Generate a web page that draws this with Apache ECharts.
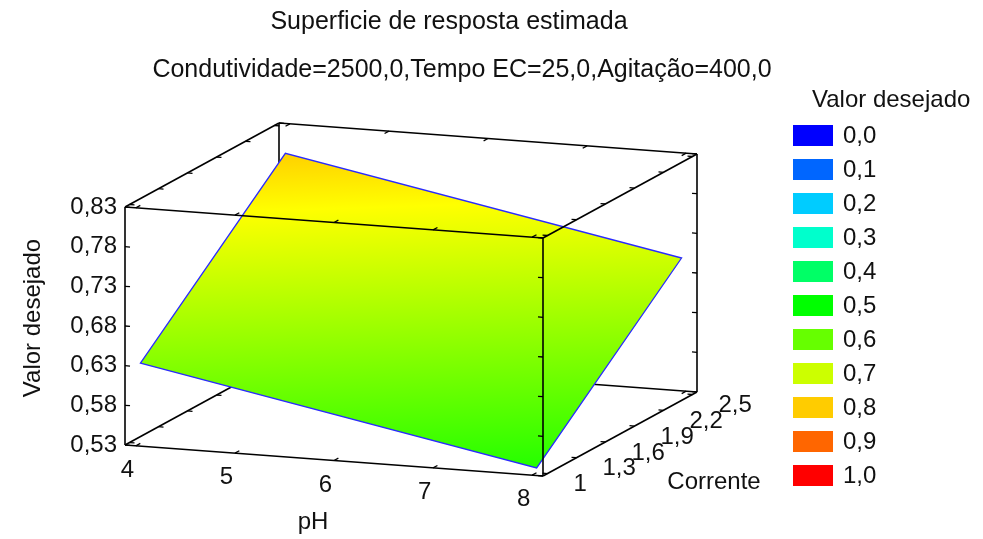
<!DOCTYPE html>
<html>
<head>
<meta charset="utf-8">
<script src="https://cdn.jsdelivr.net/npm/echarts@6/dist/echarts.min.js"></script>
<style>
html, body { margin: 0; padding: 0; background: #fff; }
#main { width: 983px; height: 539px; }
</style>
</head>
<body>
<div id="main"></div>
<script>
// tick labels of the three axes
var phTicks = [4, 5, 6, 7, 8];
var correnteTicks = [1, 1.3, 1.6, 1.9, 2.2, 2.5];
var zTicks = [0.53, 0.58, 0.63, 0.68, 0.73, 0.78, 0.83];

// estimated response surface, read at the corners of the factor region
var surfPH = [4, 8];
var surfCorrente = [1, 2.5];
var surfZ = [            // surfZ[pH index][Corrente index]
    [0.631, 0.796],
    [0.536, 0.701]
];

// colour legend
var legendValues = [0, 0.1, 0.2, 0.3, 0.4, 0.5, 0.6, 0.7, 0.8, 0.9, 1.0];
var legendColors = ['#0000ff', '#0066ff', '#00ccff', '#00ffcc', '#00ff66', '#00ff00',
    '#66ff00', '#ccff00', '#ffcc00', '#ff6600', '#ff0000'];

// axis ranges of the box (pH and Corrente are padded a little)
var phR = [3.89, 8.11];
var cR = [0.953, 2.547];
var zR = [0.53, 0.83];

// screen frame of the box
var O = [125, 445];     // corner pH min, Corrente min, z min
var PX = [418, 31];     // full pH run
var CX = [154, -84];    // full Corrente run
var ZH = 238;           // full height

var FONT = '24px "Liberation Sans", Arial, sans-serif';
var TFONT = '25px "Liberation Sans", Arial, sans-serif';
var INK = '#111';

function lin(v, d, r) {
    return echarts.number && echarts.number.linearMap
        ? echarts.number.linearMap(v, d, r)
        : r[0] + (v - d[0]) / (d[1] - d[0]) * (r[1] - r[0]);
}

function proj(ph, c, z) {
    var u = lin(ph, phR, [0, 1]);
    var v = lin(c, cR, [0, 1]);
    var w = lin(z, zR, [0, ZH]);
    return [O[0] + u * PX[0] + v * CX[0], O[1] + u * PX[1] + v * CX[1] - w];
}

function unit(a) {
    var l = Math.sqrt(a[0] * a[0] + a[1] * a[1]);
    return [a[0] / l, a[1] / l];
}

function fmt(v, d) {
    return v.toFixed(d).replace('.', ',');
}

function corner(k) {
    return [phR[k[0]], cR[k[1]], zR[k[2]]];
}

// edges: start corner, end corner, tick direction axis, sign
var backEdges = [
    [[0, 1, 0], [0, 1, 1], 'ph', 1],
    [[0, 0, 0], [0, 1, 0], 'ph', 1],
    [[0, 1, 0], [1, 1, 0], 'c', -1]
];
var frontEdges = [
    [[0, 0, 1], [1, 0, 1], 'c', 1],
    [[1, 0, 1], [1, 1, 1], 'ph', -1],
    [[0, 1, 1], [1, 1, 1], 'c', -1],
    [[0, 0, 1], [0, 1, 1], 'ph', 1],
    [[0, 0, 0], [0, 0, 1], 'ph', 1],
    [[1, 0, 0], [1, 0, 1], 'ph', -1],
    [[1, 1, 0], [1, 1, 1], 'ph', -1],
    [[0, 0, 0], [1, 0, 0], 'c', 1],
    [[1, 0, 0], [1, 1, 0], 'ph', -1]
];

function edgeRenderer(list) {
    return function (params) {
        var e = list[params.dataIndex];
        var a = corner(e[0]), b = corner(e[1]);
        var axis = e[0][0] !== e[1][0] ? 0 : (e[0][1] !== e[1][1] ? 1 : 2);
        var pa = proj(a[0], a[1], a[2]), pb = proj(b[0], b[1], b[2]);
        var children = [{
            type: 'line',
            shape: { x1: pa[0], y1: pa[1], x2: pb[0], y2: pb[1] },
            style: { stroke: '#000', lineWidth: 1.6 }
        }];
        var ticks = [phTicks, correnteTicks, zTicks][axis];
        var dir = unit(e[2] === 'ph' ? PX : CX);
        ticks.forEach(function (t) {
            var q = a.slice();
            q[axis] = t;
            var p = proj(q[0], q[1], q[2]);
            children.push({
                type: 'line',
                shape: { x1: p[0], y1: p[1], x2: p[0] + dir[0] * 5 * e[3], y2: p[1] + dir[1] * 5 * e[3] },
                style: { stroke: '#000', lineWidth: 1.3 }
            });
        });
        return { type: 'group', children: children };
    };
}

// surface cells
var cells = [];
for (var i = 0; i < surfPH.length - 1; i++) {
    for (var j = 0; j < surfCorrente.length - 1; j++) cells.push([i, j]);
}

function surfaceRenderer(params) {
    var i = cells[params.dataIndex][0], j = cells[params.dataIndex][1];
    var p00 = proj(surfPH[i], surfCorrente[j], surfZ[i][j]);
    var p10 = proj(surfPH[i + 1], surfCorrente[j], surfZ[i + 1][j]);
    var p11 = proj(surfPH[i + 1], surfCorrente[j + 1], surfZ[i + 1][j + 1]);
    var p01 = proj(surfPH[i], surfCorrente[j + 1], surfZ[i][j + 1]);
    // value gradient in screen space, for the colour ramp
    var d1 = [p10[0] - p00[0], p10[1] - p00[1]], d2 = [p01[0] - p00[0], p01[1] - p00[1]];
    var dz1 = surfZ[i + 1][j] - surfZ[i][j], dz2 = surfZ[i][j + 1] - surfZ[i][j];
    var det = d1[0] * d2[1] - d1[1] * d2[0];
    var gb = (dz1 * d2[1] - dz2 * d1[1]) / det;
    var gc = (d1[0] * dz2 - d2[0] * dz1) / det;
    var g2 = gb * gb + gc * gc;
    var t0 = (0 - surfZ[i][j]) / g2, t1 = (1 - surfZ[i][j]) / g2;
    var fill = {
        type: 'linear', global: true,
        x: p00[0] + gb * t0, y: p00[1] + gc * t0,
        x2: p00[0] + gb * t1, y2: p00[1] + gc * t1,
        colorStops: [
            { offset: 0, color: '#0000ff' },
            { offset: 0.25, color: '#00ffff' },
            { offset: 0.5, color: '#00ff00' },
            { offset: 0.75, color: '#ffff00' },
            { offset: 1, color: '#ff0000' }
        ]
    };
    return {
        type: 'polygon',
        shape: { points: [p00, p10, p11, p01] },
        style: { fill: fill, stroke: '#2a2aff', lineWidth: 1.3 }
    };
}

function labelRenderer(kind) {
    return function (params) {
        var p, x, y, align, text;
        if (kind === 'z') {
            var z = zTicks[params.dataIndex];
            p = proj(phR[0], cR[0], z);
            x = p[0] - 8; y = p[1]; align = 'right'; text = fmt(z, 2);
        } else if (kind === 'ph') {
            var ph = phTicks[params.dataIndex];
            p = proj(ph, cR[0], zR[0]);
            x = p[0] - 8.5; y = p[1] + 24.5; align = 'center'; text = String(ph);
        } else {
            var c = correnteTicks[params.dataIndex];
            p = proj(phR[1], c, zR[0]);
            x = p[0] + 26; y = p[1] + 11; align = 'left';
            text = c % 1 === 0 ? String(c) : fmt(c, 1);
        }
        return {
            type: 'text',
            x: x, y: y,
            style: { text: text, font: FONT, fill: INK, align: align, verticalAlign: 'middle' }
        };
    };
}

function idx(arr) {
    return arr.map(function (d, k) { return [k]; });
}

var graphics = [
    { type: 'text', x: 449, y: 22, style: { text: 'Superficie de resposta estimada', font: TFONT, fill: INK, align: 'center', verticalAlign: 'middle' } },
    { type: 'text', x: 462, y: 70, style: { text: 'Condutividade=2500,0,Tempo EC=25,0,Agitação=400,0', font: TFONT, fill: INK, align: 'center', verticalAlign: 'middle' } },
    { type: 'text', x: 33, y: 318, rotation: Math.PI / 2, style: { text: 'Valor desejado', font: FONT, fill: INK, align: 'center', verticalAlign: 'middle' } },
    { type: 'text', x: 313, y: 522, style: { text: 'pH', font: FONT, fill: INK, align: 'center', verticalAlign: 'middle' } },
    { type: 'text', x: 714, y: 482, style: { text: 'Corrente', font: FONT, fill: INK, align: 'center', verticalAlign: 'middle' } },
    { type: 'text', x: 812, y: 100, style: { text: 'Valor desejado', font: FONT, fill: INK, align: 'left', verticalAlign: 'middle' } }
];
legendValues.forEach(function (v, k) {
    var top = 125 + k * 34;
    graphics.push({ type: 'rect', shape: { x: 793, y: top, width: 40, height: 21 }, style: { fill: legendColors[k] } });
    graphics.push({ type: 'text', x: 843, y: top + 11, style: { text: fmt(v, 1), font: FONT, fill: INK, align: 'left', verticalAlign: 'middle' } });
});

var chart = echarts.init(document.getElementById('main'), null, { renderer: 'canvas' });
chart.setOption({
    animation: false,
    graphic: graphics,
    series: [
        { type: 'custom', coordinateSystem: 'none', silent: true, z: 1, data: idx(backEdges), renderItem: edgeRenderer(backEdges) },
        { type: 'custom', coordinateSystem: 'none', silent: true, z: 2, data: idx(cells), renderItem: surfaceRenderer },
        { type: 'custom', coordinateSystem: 'none', silent: true, z: 3, data: idx(frontEdges), renderItem: edgeRenderer(frontEdges) },
        { type: 'custom', coordinateSystem: 'none', silent: true, z: 3, data: idx(zTicks), renderItem: labelRenderer('z') },
        { type: 'custom', coordinateSystem: 'none', silent: true, z: 3, data: idx(phTicks), renderItem: labelRenderer('ph') },
        { type: 'custom', coordinateSystem: 'none', silent: true, z: 3, data: idx(correnteTicks), renderItem: labelRenderer('c') }
    ]
});
</script>
</body>
</html>
